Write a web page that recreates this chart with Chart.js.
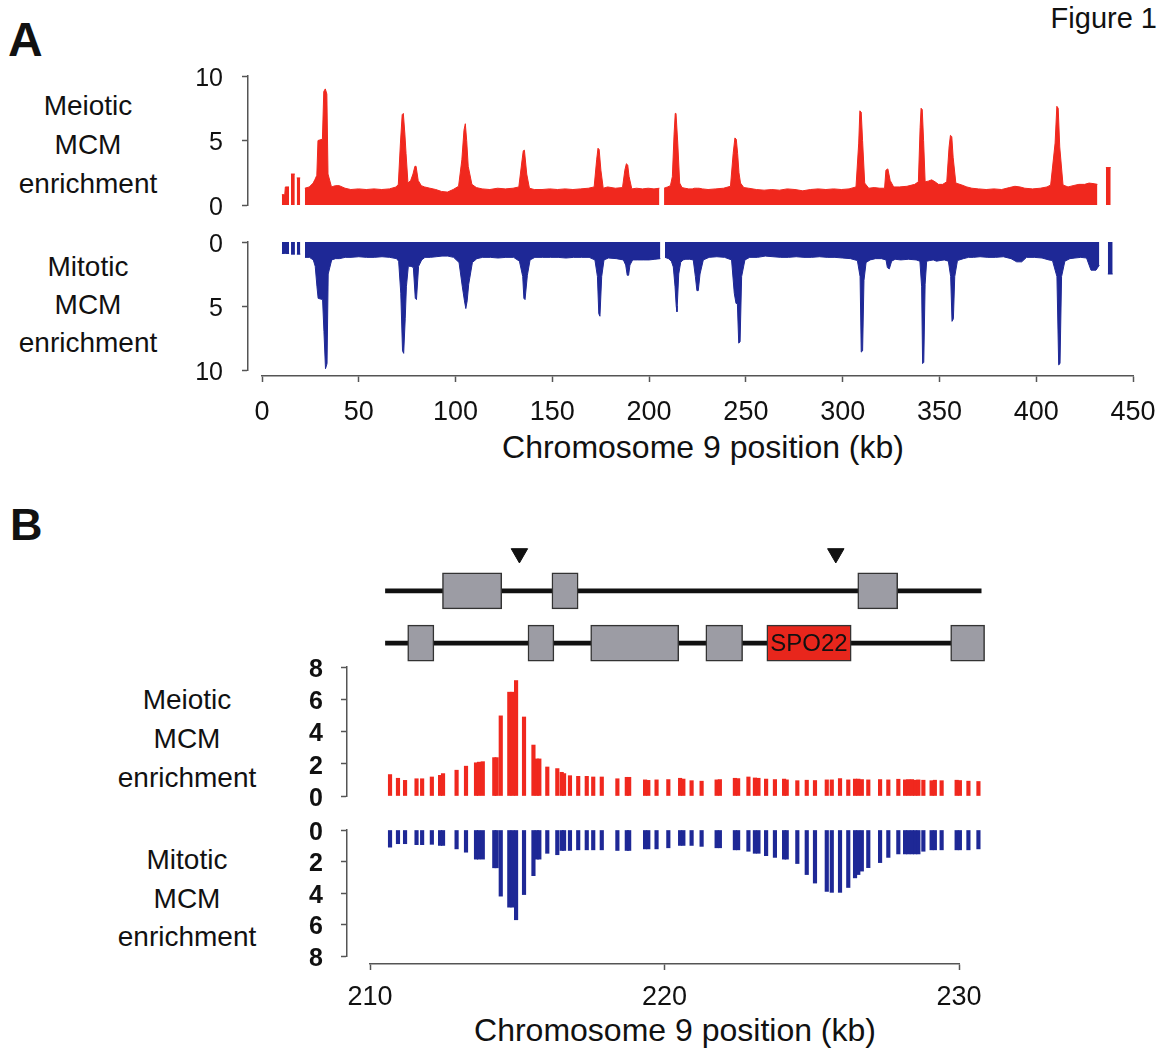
<!DOCTYPE html>
<html>
<head>
<meta charset="utf-8">
<title>Figure 1</title>
<script src="https://cdn.jsdelivr.net/npm/chart.js@4"></script>
<style>
  body { margin: 0; background: #fff; }
  #page { position: relative; width: 1164px; height: 1055px; overflow: hidden;
          font-family: "Liberation Sans", Arial, sans-serif; color: #111; }
  #page canvas { position: absolute; }
  .txt { position: absolute; white-space: nowrap; }
  .ylab { position: absolute; width: 176px; text-align: center; font-size: 28px; }
  .title { position: absolute; width: 600px; text-align: center; font-size: 32px; line-height: 32px; }
</style>
</head>
<body>
<div id="page">
  <div class="txt" style="left:8px;top:16px;font-size:48px;line-height:48px;font-weight:bold">A</div>
  <div class="txt" style="left:10px;top:502px;font-size:45px;line-height:45px;font-weight:bold">B</div>
  <div class="txt" style="right:7px;top:4px;font-size:29px;line-height:29px">Figure 1</div>

  <div class="ylab" style="left:0;top:86px;line-height:39px">Meiotic<br>MCM<br>enrichment</div>
  <div class="ylab" style="left:0;top:248px;line-height:38px">Mitotic<br>MCM<br>enrichment</div>
  <div class="ylab" style="left:99px;top:680px;line-height:39px">Meiotic<br>MCM<br>enrichment</div>
  <div class="ylab" style="left:99px;top:841px;line-height:38.5px">Mitotic<br>MCM<br>enrichment</div>

  <div class="title" style="left:403px;top:431px">Chromosome 9 position (kb)</div>
  <div class="title" style="left:375px;top:1014px">Chromosome 9 position (kb)</div>

  <canvas id="aMei"></canvas>
  <canvas id="aMit"></canvas>
  <canvas id="aAxis"></canvas>
  <canvas id="bGenes"></canvas>
  <canvas id="bMei"></canvas>
  <canvas id="bMit"></canvas>
  <canvas id="bAxis"></canvas>
</div>

<script>
// ---- panel A: whole chromosome 9 (kb, enrichment); null = no probes ----
const aKb = [
  10.3, 11.8, 12.1, 14.0, 14.5, 15.0, 17.0, 17.5, 18.0, 19.8, 21.0,
  22.2, 24.5, 26.5, 27.5, 28.4, 29.0, 31.3, 32.0, 32.8, 33.6, 34.2, 36.0, 38.0, 40.0,
  43.0, 46.0, 50.0, 54.0, 58.0, 62.0, 66.0, 69.5, 70.6, 71.7, 72.6, 73.2, 74.0, 74.6,
  75.6, 77.0, 78.2, 79.2, 79.8, 80.9, 82.5, 84.2, 87.0, 90.0, 93.0, 96.0, 99.0,
  101.8, 103.5, 104.6, 105.3, 106.0, 106.8, 108.7, 111.0, 114.0, 118.0, 122.0, 126.0,
  130.0, 133.0, 134.7, 135.3, 135.9, 137.1, 138.5, 141.0, 145.0, 149.0, 153.0, 157.0,
  161.0, 165.0, 169.0, 172.0, 173.3, 174.0, 174.6, 175.5, 176.7, 179.0, 183.0, 186.7,
  187.9, 188.7, 189.4, 190.1, 191.5, 194.0, 197.0, 200.0, 203.0, 205.8, 207.0,
  208.2, 210.0, 211.5, 212.5, 213.4, 214.0, 214.4, 215.3, 216.3, 217.5, 219.0, 221.0,
  222.8, 223.9, 224.7, 225.4, 226.3, 228.0, 231.0, 235.0, 239.0, 242.6, 244.0, 244.9,
  245.6, 246.3, 247.0, 247.8, 249.5, 252.0, 256.0, 260.0, 264.0, 268.0, 272.0, 276.0,
  280.0, 284.0, 288.0, 292.0, 296.0, 300.0, 304.0, 307.6, 309.0, 309.6, 310.3, 311.0,
  312.1, 314.2, 317.0, 320.0, 322.4, 323.1, 324.1, 325.3, 327.1, 330.0, 334.0, 338.0,
  339.9, 340.8, 341.3, 341.9, 342.6, 343.4, 345.0, 346.8, 348.5, 350.3, 352.5, 354.6,
  355.8, 356.5, 357.2, 357.9, 359.3, 362.4, 365.0, 367.6, 371.0, 375.0, 379.0, 383.0,
  387.0, 389.9, 392.5, 395.0, 399.0, 403.0, 406.5, 408.4, 410.7, 411.6, 412.3, 413.1,
  414.8, 417.4, 420.0, 423.0, 426.0, 428.3, 430.9, 432.6, 435.0, 437.0, 439.5
];
const aMeiotic = [
  0.8, 0.8, 1.4, 1.4, null, 2.4, 2.4, null, 2.1, 2.1, null,
  1.3, 1.4, 1.7, 2.0, 2.3, 5.0, 5.1, 8.8, 9.0, 8.6, 2.4, 1.4, 1.5, 1.5,
  1.3, 1.2, 1.25, 1.2, 1.25, 1.2, 1.25, 1.4, 1.6, 4.8, 7.0, 7.1, 5.5, 4.0,
  1.7, 1.9, 2.4, 3.0, 3.0, 1.9, 1.5, 1.4, 1.3, 1.2, 1.05, 1.0, 1.2,
  1.45, 3.5, 5.8, 6.3, 5.0, 3.0, 1.6, 1.35, 1.25, 1.2, 1.3, 1.25,
  1.3, 1.4, 3.5, 4.2, 4.25, 2.4, 1.3, 1.2, 1.2, 1.25, 1.2, 1.25,
  1.2, 1.25, 1.3, 1.4, 3.5, 4.4, 4.3, 2.7, 1.3, 1.4, 1.3, 1.35,
  2.7, 3.2, 3.1, 2.2, 1.25, 1.3, 1.25, 1.3, 1.25, 1.3, null,
  1.3, 1.4, 1.5, 2.2, 5.5, 7.1, 7.1, 4.8, 1.7, 1.35, 1.3, 1.25,
  1.25, 1.3, 1.3, 1.3, 1.3, 1.25, 1.2, 1.25, 1.3, 1.45, 4.0, 5.2,
  5.1, 4.0, 2.5, 1.7, 1.35, 1.3, 1.2, 1.15, 1.2, 1.15, 1.25, 1.2,
  1.1, 1.2, 1.25, 1.2, 1.25, 1.2, 1.25, 1.4, 4.8, 7.3, 7.2, 5.0,
  1.7, 1.3, 1.35, 1.3, 1.3, 2.7, 2.8, 1.9, 1.4, 1.4, 1.45, 1.6,
  1.8, 6.0, 7.5, 7.4, 5.0, 1.8, 1.85, 1.95, 1.8, 1.6, 1.6, 1.8,
  4.5, 5.4, 5.3, 3.7, 1.7, 1.55, 1.4, 1.3, 1.25, 1.2, 1.25, 1.2,
  1.35, 1.45, 1.4, 1.3, 1.25, 1.3, 1.4, 1.55, 4.8, 7.65, 7.5, 4.5,
  1.55, 1.4, 1.5, 1.6, 1.6, 1.7, 1.65, 1.6, null, 2.9, 2.9
];
const aMitotic = [
  0.9, 0.9, 0.9, 0.9, null, 0.95, 0.95, null, 0.95, 0.95, null,
  1.2, 1.2, 1.4, 1.9, 3.5, 4.4, 4.5, 7.0, 9.9, 9.5, 2.5, 1.4, 1.3, 1.3,
  1.2, 1.2, 1.15, 1.2, 1.2, 1.15, 1.2, 1.3, 1.5, 4.0, 8.5, 8.7, 6.0, 3.5,
  1.9, 1.9, 2.0, 4.4, 4.5, 1.9, 1.4, 1.2, 1.2, 1.15, 1.1, 1.1, 1.2,
  1.6, 3.5, 4.6, 5.2, 4.6, 3.3, 1.6, 1.3, 1.2, 1.2, 1.25, 1.2,
  1.2, 1.5, 2.7, 4.4, 4.5, 2.6, 1.4, 1.2, 1.2, 1.2, 1.2, 1.25,
  1.2, 1.2, 1.2, 1.4, 2.7, 5.6, 5.8, 2.7, 1.4, 1.25, 1.3, 1.4,
  1.8, 2.6, 2.6, 1.8, 1.4, 1.4, 1.4, 1.4, 1.35, 1.3, null,
  1.2, 1.3, 1.5, 1.95, 3.5, 5.0, 5.45, 2.5, 1.6, 1.4, 1.35, 1.35,
  1.4, 2.7, 3.8, 3.8, 2.5, 1.4, 1.2, 1.15, 1.2, 1.4, 4.0, 4.8,
  4.8, 7.9, 7.8, 2.7, 1.4, 1.2, 1.2, 1.1, 1.15, 1.2, 1.2, 1.15,
  1.2, 1.2, 1.15, 1.2, 1.2, 1.25, 1.3, 1.45, 2.7, 8.6, 8.5, 3.0,
  1.6, 1.4, 1.3, 1.3, 1.4, 2.0, 2.1, 1.5, 1.35, 1.4, 1.35, 1.4,
  1.5, 3.5, 9.5, 9.4, 3.3, 1.5, 1.45, 1.4, 1.5, 1.45, 1.4, 1.5,
  2.7, 6.2, 6.0, 2.7, 1.45, 1.3, 1.2, 1.2, 1.15, 1.2, 1.2, 1.15,
  1.3, 1.55, 1.55, 1.2, 1.2, 1.25, 1.4, 1.45, 2.7, 9.6, 9.5, 2.7,
  1.5, 1.3, 1.25, 1.2, 1.25, 2.2, 2.2, 1.8, null, 2.5, 2.5
];
const aTicks = [0, 450, 50];   // min, max, step (kb)

// ---- panel B: 210-230 kb, one bar per probe ----
const bKb = [
  210.68, 210.95, 211.19, 211.58, 211.77, 212.10, 212.38, 212.48, 212.94, 213.26,
  213.60, 213.70, 213.83, 214.22, 214.30, 214.44, 214.73, 214.84, 214.96, 215.23,
  215.55, 215.66, 215.75, 216.02, 216.36, 216.51, 216.59, 216.79, 217.07, 217.36,
  217.58, 217.87, 218.40, 218.72, 218.80, 219.34, 219.45, 219.73, 220.13, 220.53,
  220.64, 220.92, 221.26, 221.77, 221.88, 222.39, 222.50, 222.85, 223.07, 223.19,
  223.45, 223.75, 224.06, 224.15, 224.51, 224.83, 225.11, 225.51, 225.68, 225.96,
  226.24, 226.47, 226.58, 226.70, 226.92, 227.32, 227.60, 227.94, 228.17, 228.28,
  228.40, 228.51, 228.62, 228.79, 229.07, 229.18, 229.41, 229.92, 230.03, 230.32, 230.66
];
const bMeiotic = [
  1.33, 1.10, 0.97, 1.07, 1.07, 1.18, 1.28, 1.39, 1.60, 1.85,
  2.06, 2.10, 2.13, 2.38, 2.38, 4.97, 6.44, 6.44, 7.16, 4.90,
  3.16, 2.30, 2.30, 1.80, 1.70, 1.47, 1.39, 1.26, 1.22, 1.22,
  1.18, 1.18, 1.07, 1.16, 1.16, 1.00, 0.97, 1.00, 1.02, 1.10,
  1.05, 0.95, 0.92, 1.00, 1.02, 1.10, 1.08, 1.18, 1.12, 1.10,
  1.05, 1.02, 1.05, 1.00, 0.95, 0.98, 0.96, 1.00, 1.00, 1.08,
  1.00, 1.05, 1.05, 1.02, 1.00, 1.02, 1.00, 1.04, 1.00, 1.02,
  1.02, 0.98, 1.00, 0.98, 0.95, 0.98, 0.95, 0.98, 0.96, 0.92, 0.90
];
const bMitotic = [
  1.09, 0.87, 0.87, 0.93, 0.93, 0.91, 0.98, 0.98, 1.20, 1.41,
  1.85, 1.85, 1.85, 2.40, 2.40, 4.20, 4.90, 4.90, 5.70, 4.10,
  2.90, 1.85, 1.85, 1.48, 1.57, 1.30, 1.30, 1.30, 1.26, 1.26,
  1.26, 1.26, 1.30, 1.30, 1.30, 1.20, 1.20, 1.20, 1.13, 0.98,
  0.98, 0.98, 1.04, 1.13, 1.13, 1.26, 1.26, 1.35, 1.48, 1.48,
  1.63, 1.74, 1.85, 1.85, 2.13, 2.83, 3.37, 3.90, 3.96, 3.96,
  3.65, 3.04, 2.83, 2.61, 2.39, 2.07, 1.74, 1.52, 1.52, 1.52,
  1.52, 1.52, 1.52, 1.35, 1.26, 1.26, 1.26, 1.26, 1.26, 1.26, 1.20
];
const bTicks = [210, 230, 10];

// ---- gene map (kb) ----
const strandSpan = [210.2, 231.1];
const plusGenes = [[212.2, 214.28], [216.04, 216.96], [226.77, 228.17]];
const minusGenes = [[210.98, 211.9], [215.2, 216.11], [217.4, 220.49], [221.44, 222.73], [230.03, 231.22]];
const spo22 = [223.58, 226.54];
const spo22Name = 'SPO22';
const originsKb = [214.9, 226.0];

// ---- layout / style ----
const RED = '#f0281e';
const BLUE = '#1e2896';
const AXIS = '#555';
const FONT = '"Liberation Sans", Arial, sans-serif';
Chart.defaults.font.family = FONT;
Chart.defaults.color = '#111';
Chart.defaults.animation = false;
Chart.defaults.plugins.legend.display = false;
Chart.defaults.plugins.tooltip.enabled = false;

// pixel frames of the plot areas [left, top, right, bottom]
const A_X0 = 262, A_X1 = 1133, A_YAX = 248;
const B_X0 = 370, B_X1 = 959, B_YAX = 347, B_RIGHT = 1000;
const aPerKb = (A_X1 - A_X0) / (aTicks[1] - aTicks[0]);
const bPerKb = (B_X1 - B_X0) / (bTicks[1] - bTicks[0]);
const aRange = { min: aTicks[0] - (A_X0 - A_YAX) / aPerKb, max: aTicks[1] };
const bRange = { min: bTicks[0] - (B_X0 - B_YAX) / bPerKb, max: bTicks[0] + (B_RIGHT - B_X0) / bPerKb };

function place(id, area, pad) {
  const c = document.getElementById(id);
  c.width = area[2] - area[0] + pad[0] + pad[2];
  c.height = area[3] - area[1] + pad[1] + pad[3];
  c.style.left = (area[0] - pad[0]) + 'px';
  c.style.top = (area[1] - pad[1]) + 'px';
  return c;
}

function yAxis(max, step, reverse, font, width, padding) {
  return {
    type: 'linear', min: 0, max: max, reverse: reverse, position: 'left',
    afterFit: s => { s.width = width; },
    ticks: { stepSize: step, font: font, padding: padding, labelOffset: 3, color: '#111', autoSkip: false },
    grid: { drawOnChartArea: false, tickLength: 6, tickColor: AXIS, tickWidth: 1.5 },
    border: { display: true, color: AXIS, width: 1.5 }
  };
}

function hiddenX(range) {
  return { type: 'linear', min: range.min, max: range.max, display: false, offset: false };
}

const pts = (xs, ys) => xs.map((x, i) => ({ x: x, y: ys[i] }));

function trackA(id, area, values, color, reverse, marks) {
  const pad = [100, 45, 10, 45];
  const c = place(id, area, pad);
  const datasets = [{
    data: pts(aKb, values), borderColor: color, backgroundColor: color,
    borderWidth: 1, fill: 'origin', pointRadius: 0, tension: 0, spanGaps: false
  }];
  if (marks) {
    datasets.push({
      type: 'scatter', data: marks.map(x => ({ x: x, y: 11.1 })), clip: false,
      pointStyle: 'triangle', rotation: 180, pointRadius: 11,
      backgroundColor: '#111', borderColor: '#111', borderWidth: 1
    });
  }
  return new Chart(c, {
    type: 'line',
    data: { datasets: datasets },
    options: {
      responsive: false, devicePixelRatio: 1,
      layout: { padding: { left: 0, top: pad[1], right: pad[2], bottom: pad[3] } },
      scales: {
        x: hiddenX(aRange),
        y: yAxis(10, 5, reverse, { size: 25 }, pad[0], 19)
      }
    }
  });
}

function trackB(id, area, values, color, reverse) {
  const pad = [100, 45, 10, 45];
  const c = place(id, area, pad);
  return new Chart(c, {
    type: 'bar',
    data: { datasets: [{ data: pts(bKb, values), backgroundColor: color, barThickness: 3.5, grouped: false }] },
    options: {
      responsive: false, devicePixelRatio: 1,
      layout: { padding: { left: 0, top: pad[1], right: pad[2], bottom: pad[3] } },
      scales: {
        x: hiddenX(bRange),
        y: yAxis(8, 2, reverse, { size: 25, weight: 'bold' }, pad[0], 18)
      }
    }
  });
}

function xAxisChart(id, area, ticks, padding) {
  const pad = [40, 4, 40, 50];
  const c = place(id, area, pad);
  return new Chart(c, {
    type: 'line',
    data: { datasets: [{ data: [] }] },
    options: {
      responsive: false, devicePixelRatio: 1,
      layout: { padding: { left: pad[0], top: pad[1], right: pad[2], bottom: 0 } },
      scales: {
        x: {
          type: 'linear', min: ticks[0], max: ticks[1], offset: false,
          afterFit: s => { s.height = pad[3]; },
          ticks: { stepSize: ticks[2], font: { size: 27 }, padding: padding, maxRotation: 0, autoSkip: false, color: '#111' },
          grid: { drawOnChartArea: false, tickLength: 6, tickColor: AXIS, tickWidth: 1.5 },
          border: { display: true, color: AXIS, width: 1.5 }
        },
        y: { display: false, min: 0, max: 1 }
      }
    }
  });
}

// panel A
trackA('aMei', [A_YAX, 76, A_X1, 205], aMeiotic, RED, false, originsKb);
trackA('aMit', [A_YAX, 242, A_X1, 370], aMitotic, BLUE, true, null);
xAxisChart('aAxis', [A_X0, 366, A_X1, 376], aTicks, 14);

// panel B gene map
const rowY = { mark: 3.33, plus: 2.26, minus: 0.77 };
const spo22Label = {
  id: 'spo22Label',
  afterDatasetsDraw(chart) {
    const meta = chart.getDatasetMeta(2);
    const ctx = chart.ctx;
    meta.data.forEach(bar => {
      const p = bar.getCenterPoint();
      ctx.save();
      ctx.font = '24px ' + FONT;
      ctx.fillStyle = '#111';
      ctx.textAlign = 'center';
      ctx.textBaseline = 'middle';
      ctx.fillText(spo22Name, p.x, p.y + 1);
      ctx.restore();
    });
  }
};
(function () {
  const pad = [0, 25, 0, 25];
  const c = place('bGenes', [B_YAX, 530, B_RIGHT, 670], pad);
  const geneBox = { backgroundColor: '#9c9ca4', borderColor: '#333', borderWidth: 1.5, borderSkipped: false, barThickness: 36, grouped: false };
  new Chart(c, {
    type: 'bar',
    data: {
      datasets: [
        Object.assign({}, geneBox, {
          data: plusGenes.map(g => ({ x: g, y: rowY.plus })).concat(minusGenes.map(g => ({ x: g, y: rowY.minus }))),
          order: 2
        }),
        {
          data: [{ x: strandSpan, y: rowY.plus }, { x: strandSpan, y: rowY.minus }],
          backgroundColor: '#111', barThickness: 4, borderWidth: 0, grouped: false, order: 3
        },
        Object.assign({}, geneBox, {
          data: [{ x: spo22, y: rowY.minus }], backgroundColor: '#e8261c', order: 1
        }),
        {
          type: 'scatter', indexAxis: 'x', data: originsKb.map(x => ({ x: x, y: rowY.mark })),
          pointStyle: 'triangle', rotation: 180, pointRadius: 9.5, clip: false,
          backgroundColor: '#111', borderColor: '#111', borderWidth: 1, order: 0
        }
      ]
    },
    options: {
      indexAxis: 'y', responsive: false, devicePixelRatio: 1,
      layout: { padding: { left: pad[0], top: pad[1], right: pad[2], bottom: pad[3] } },
      scales: {
        x: hiddenX(bRange),
        y: { type: 'linear', min: 0, max: 4, display: false, offset: false }
      }
    },
    plugins: [spo22Label]
  });
})();

// panel B tracks
trackB('bMei', [B_YAX, 667, B_RIGHT, 796], bMeiotic, RED, false);
trackB('bMit', [B_YAX, 830, B_RIGHT, 956], bMitotic, BLUE, true);
xAxisChart('bAxis', [B_X0, 950, B_X1, 964], bTicks, 11);
</script>
</body>
</html>
